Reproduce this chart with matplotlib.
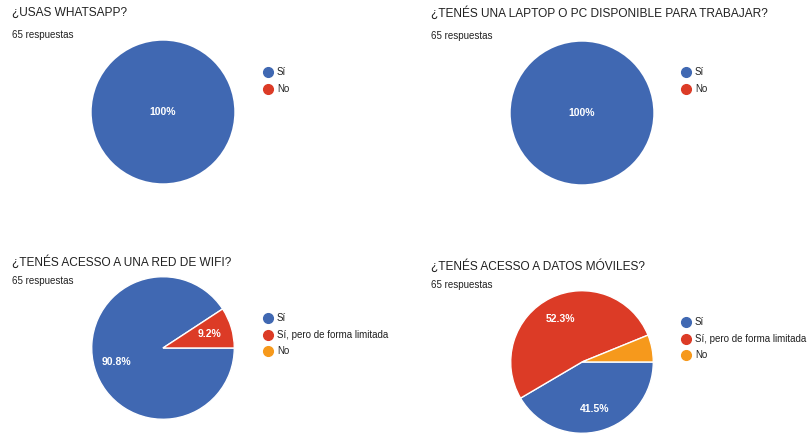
import matplotlib
matplotlib.use("Agg")
import matplotlib.pyplot as plt
from matplotlib.lines import Line2D

plt.rcParams['font.family'] = ['Liberation Sans', 'DejaVu Sans']

W, H = 807, 437

titles = ["¿USAS WHATSAPP?",
          "¿TENÉS UNA LAPTOP O PC DISPONIBLE PARA TRABAJAR?",
          "¿TENÉS ACESSO A UNA RED DE WIFI?",
          "¿TENÉS ACESSO A DATOS MÓVILES?"]
subtitle = "65 respuestas"

labels_yn = ["Sí", "No"]
labels_3 = ["Sí", "Sí, pero de forma limitada", "No"]

whatsapp = [65, 0]
laptop = [65, 0]
wifi = [59, 6, 0]
datos = [27, 34, 4]

colors = ["#4068b2", "#dc3b26", "#f6991c"]

charts = [
    (titles[0], labels_yn, whatsapp),
    (titles[1], labels_yn, laptop),
    (titles[2], labels_3, wifi),
    (titles[3], labels_3, datos),
]

# layout in pixels (kept separate from data)
layout = [
    dict(tx=12, ty=13, sy=35, cx=163, cy=112, r=72, lx=268, ly=72),
    dict(tx=431, ty=13, sy=36, cx=582, cy=113, r=72, lx=686, ly=72),
    dict(tx=12, ty=262, sy=281, cx=163, cy=348, r=72, lx=268, ly=318),
    dict(tx=431, ty=266, sy=285, cx=582, cy=362, r=72, lx=686, ly=322),
]

fig = plt.figure(figsize=(W / 100, H / 100), dpi=100)
fig.patch.set_facecolor("white")


def fmt(p):
    if p < 7:
        return ""
    s = f"{p:.1f}"
    if s.endswith(".0"):
        s = s[:-2]
    return s + "%"


for (title, labels, values), L in zip(charts, layout):
    fig.text(L["tx"] / W, 1 - L["ty"] / H, title, fontsize=8.6, color="#212121",
             va="center", ha="left")
    fig.text(L["tx"] / W, 1 - L["sy"] / H, subtitle, fontsize=7, color="#212121",
             va="center", ha="left")
    cx, cy, r = L["cx"], L["cy"], L["r"]
    ax = fig.add_axes([(cx - r) / W, 1 - (cy + r) / H, 2 * r / W, 2 * r / H])
    wedges, texts, autotexts = ax.pie(
        values, colors=colors[:len(values)], startangle=0, counterclock=False,
        autopct=fmt, pctdistance=0.68,
        wedgeprops=dict(edgecolor="white", linewidth=1.0),
        textprops=dict(color="white", fontsize=7.5, fontweight="bold"))
    total = sum(values)
    for v, w, t in zip(values, wedges, autotexts):
        if v == total:
            t.set_position((0, 0))
            w.set_linewidth(0)
        if v == 0:
            w.set_visible(False)
    ax.set_xlim(-1.01, 1.01)
    ax.set_ylim(-1.01, 1.01)
    ax.set_aspect("equal")
    ax.axis("off")

    # legend
    for i, lab in enumerate(labels):
        y = 1 - (L["ly"] + i * 16.5) / H
        fig.add_artist(Line2D([L["lx"] / W], [y], marker="o", markersize=7,
                              color=colors[i], linestyle="none",
                              transform=fig.transFigure))
        fig.text((L["lx"] + 9) / W, y, lab, fontsize=7, color="#212121",
                 va="center", ha="left")

fig.savefig("out.png", dpi=100, facecolor="white")
